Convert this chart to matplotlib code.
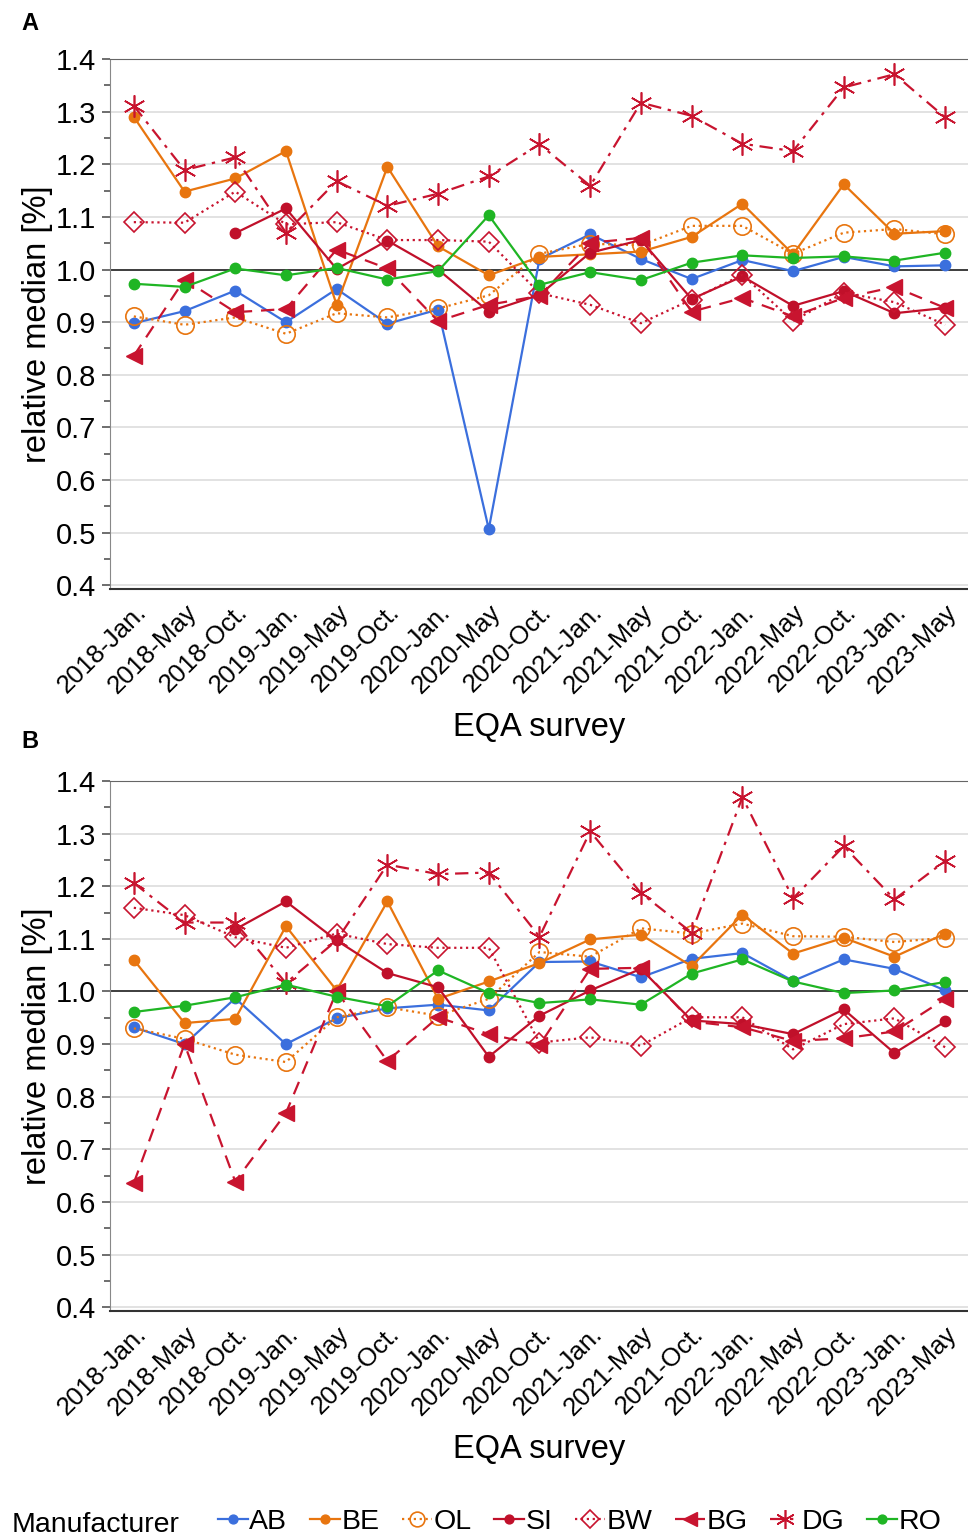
import numpy as np
import matplotlib.pyplot as plt
from matplotlib.ticker import MultipleLocator

plt.rcParams['font.family'] = ['Liberation Sans', 'DejaVu Sans']

surveys = ['2018-Jan.', '2018-May', '2018-Oct.', '2019-Jan.', '2019-May', '2019-Oct.',
           '2020-Jan.', '2020-May', '2020-Oct.', '2021-Jan.', '2021-May', '2021-Oct.',
           '2022-Jan.', '2022-May', '2022-Oct.', '2023-Jan.', '2023-May']
nan = np.nan

# panel A
a_AB = [0.898, 0.921, 0.960, 0.900, 0.963, 0.897, 0.924, 0.507, 1.020, 1.067, 1.020, 0.982, 1.018, 0.997, 1.024, 1.006, 1.008]
a_BE = [1.290, 1.148, 1.173, 1.225, 0.933, 1.195, 1.044, 0.989, 1.024, 1.029, 1.034, 1.062, 1.125, 1.029, 1.162, 1.068, 1.073]
a_OL = [0.911, 0.895, 0.909, 0.878, 0.917, 0.909, 0.926, 0.951, 1.030, 1.049, 1.046, 1.083, 1.083, 1.030, 1.070, 1.077, 1.067]
a_SI = [nan, nan, 1.069, 1.116, 1.001, 1.055, 1.000, 0.920, 0.952, 1.032, 1.056, 0.944, 0.987, 0.931, 0.959, 0.917, 0.927]
a_BW = [1.090, 1.089, 1.148, 1.086, 1.090, 1.056, 1.056, 1.053, 0.955, 0.933, 0.898, 0.943, 0.990, 0.902, 0.956, 0.938, 0.895]
a_BG = [0.836, 0.981, 0.919, 0.925, 1.038, 1.002, 0.902, 0.933, 0.950, 1.051, 1.060, 0.920, 0.946, 0.911, 0.946, 0.967, 0.927]
a_DG = [1.311, 1.189, 1.213, 1.070, 1.168, 1.121, 1.144, 1.177, 1.238, 1.159, 1.317, 1.292, 1.239, 1.225, 1.346, 1.371, 1.289]
a_RO = [0.973, 0.967, 1.002, 0.989, 1.003, 0.981, 0.997, 1.103, 0.971, 0.995, 0.980, 1.013, 1.027, 1.022, 1.025, 1.017, 1.032]

# panel B
b_AB = [0.932, 0.900, 0.987, 0.900, 0.949, 0.968, 0.975, 0.964, 1.056, 1.057, 1.027, 1.062, 1.073, 1.020, 1.061, 1.043, 1.002]
b_BE = [1.060, 0.940, 0.948, 1.124, 1.002, 1.171, 0.986, 1.019, 1.054, 1.099, 1.108, 1.048, 1.146, 1.072, 1.102, 1.066, 1.110]
b_OL = [0.930, 0.910, 0.880, 0.866, 0.951, 0.970, 0.954, 0.986, 1.075, 1.066, 1.120, 1.110, 1.129, 1.105, 1.104, 1.094, 1.102]
b_SI = [nan, nan, 1.118, 1.171, 1.097, 1.035, 1.008, 0.876, 0.954, 1.002, 1.043, 0.945, 0.938, 0.919, 0.966, 0.883, 0.943]
b_BW = [1.159, 1.145, 1.103, 1.083, 1.110, 1.090, 1.083, 1.083, 0.903, 0.913, 0.897, 0.951, 0.951, 0.890, 0.938, 0.949, 0.894]
b_BG = [0.636, 0.900, 0.639, 0.769, 1.000, 0.868, 0.951, 0.919, 0.898, 1.043, 1.045, 0.943, 0.932, 0.906, 0.911, 0.924, 0.986]
b_DG = [1.206, 1.131, 1.131, 1.016, 1.097, 1.241, 1.223, 1.226, 1.104, 1.304, 1.187, 1.112, 1.369, 1.177, 1.276, 1.175, 1.248]
b_RO = [0.961, 0.973, 0.989, 1.013, 0.990, 0.972, 1.040, 0.997, 0.978, 0.985, 0.975, 1.034, 1.061, 1.019, 0.997, 1.002, 1.018]

manufacturers = ['AB', 'BE', 'OL', 'SI', 'BW', 'BG', 'DG', 'RO']
panel_a = [a_AB, a_BE, a_OL, a_SI, a_BW, a_BG, a_DG, a_RO]
panel_b = [b_AB, b_BE, b_OL, b_SI, b_BW, b_BG, b_DG, b_RO]

blue = '#3b6fdd'
orange = '#e8750f'
dred = '#c0102a'
red = '#c8142f'
green = '#1fb524'
asterisk = (6, 2, 0)
styles = {
    'AB': dict(color=blue, ls='-', marker='o', ms=7.5, mfc=blue),
    'BE': dict(color=orange, ls='-', marker='o', ms=7.5, mfc=orange),
    'OL': dict(color=orange, ls=':', marker='o', ms=12.5, mfc='none', mew=1.2),
    'SI': dict(color=dred, ls='-', marker='o', ms=7.5, mfc=dred),
    'BW': dict(color=red, ls=':', marker='D', ms=10.5, mfc='none', mew=1.2),
    'BG': dict(color=red, ls=(0, (6, 4)), marker='<', ms=12, mfc=red),
    'DG': dict(color=red, ls=(0, (6, 3, 1.5, 3)), marker=asterisk, ms=16, mew=1.2),
    'RO': dict(color=green, ls='-', marker='o', ms=7.5, mfc=green),
}

fig = plt.figure(figsize=(9.68, 15.4), dpi=100)
ax_a = fig.add_axes([0.1136, 0.6175, 0.8864, 0.3442])
ax_b = fig.add_axes([0.1136, 0.1487, 0.8864, 0.3442])

x = np.arange(len(surveys))
handles = []
for ax, data in [(ax_a, panel_a), (ax_b, panel_b)]:
    for name, vals in zip(manufacturers, data):
        h, = ax.plot(x, vals, lw=1.6, label=name, **styles[name])
        if ax is ax_a:
            handles.append(h)
    ax.axhline(1.0, color='#222222', lw=1.2, zorder=1)
    ax.set_ylim(0.393, 1.4)
    ax.set_xlim(-0.47, 16.45)
    ax.yaxis.set_major_locator(MultipleLocator(0.1))
    ax.yaxis.set_minor_locator(MultipleLocator(0.05))
    ax.yaxis.set_major_formatter(plt.FuncFormatter(lambda v, p: '%.1f' % v))
    ax.grid(axis='y', color='#dddddd', lw=1.2, zorder=0)
    ax.set_axisbelow(True)
    ax.set_xticks(x)
    ax.set_xticklabels(surveys, rotation=45, ha='right', rotation_mode='anchor', fontsize=18.5)
    ax.tick_params(axis='x', length=0, pad=8)
    ax.tick_params(axis='y', which='major', labelsize=21, length=6, color='#555555', width=1.2, pad=4)
    ax.tick_params(axis='y', which='minor', length=4, color='#555555', width=1.2)
    ax.spines['right'].set_visible(False)
    ax.spines['top'].set_color('#666666')
    ax.spines['left'].set_color('#888888')
    ax.spines['bottom'].set_color('#333333')
    ax.spines['bottom'].set_linewidth(1.5)
    ax.set_ylabel('relative median [%]', fontsize=23.5, labelpad=2)
    ax.set_xlabel('EQA survey', fontsize=23.5, labelpad=10)

fig.text(0.022, 0.985, 'A', fontsize=17, fontweight='bold', va='center')
fig.text(0.022, 0.5185, 'B', fontsize=17, fontweight='bold', va='center')

fig.text(0.012, 0.0095, 'Manufacturer', fontsize=20.5, va='center')
fig.legend(handles=handles, loc='center left', bbox_to_anchor=(0.225, 0.0115), ncol=8,
           frameon=False, fontsize=20.5, handlelength=1.05, handletextpad=0.05,
           columnspacing=0.8, markerscale=0.85, borderpad=0, borderaxespad=0)

fig.savefig('out.png', dpi=100)
